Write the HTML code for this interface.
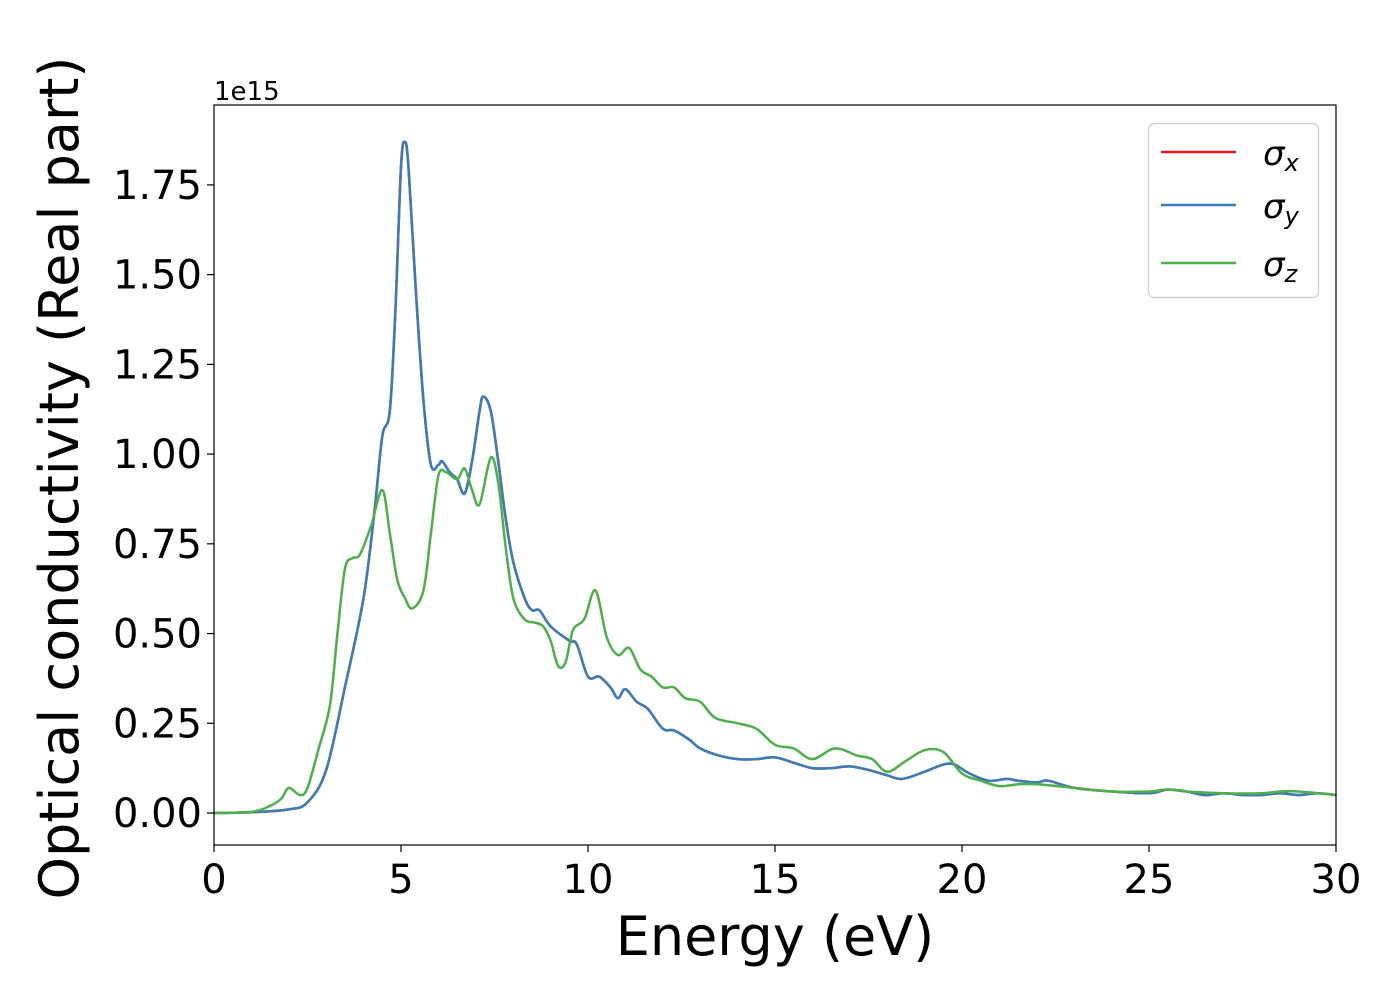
<!DOCTYPE html>
<html><head><meta charset="utf-8"><style>
body{margin:0;background:#fff;}
svg{display:block;font-family:"DejaVu Sans","Liberation Sans",sans-serif;}
</style></head><body>
<svg id="chart" width="1400" height="1000" viewBox="0 0 1400 1000">
<rect x="0" y="0" width="1400" height="1000" fill="#fff"/>
<g id="ticks"></g>
<g id="series"></g>
<rect x="214" y="105" width="1122" height="740" fill="none" stroke="#000" stroke-width="1.2"/>
<text x="214" y="100" font-size="26">1e15</text>
<text x="775" y="955" font-size="54" text-anchor="middle">Energy (eV)</text>
<text transform="translate(78,478) rotate(-90)" font-size="54" text-anchor="middle">Optical conductivity (Real part)</text>
<g>
<rect x="1148.5" y="123.5" width="170" height="174" rx="6" fill="#fff" fill-opacity="0.8" stroke="#ccc" stroke-width="1.2"/>
<g><line x1="1161" y1="152" x2="1236" y2="152" stroke="#e41a1c" stroke-width="2.5"/><text x="1263" y="165" font-size="34" font-style="italic">σ<tspan font-size="24" dy="6">x</tspan></text></g>
<g><line x1="1161" y1="205" x2="1236" y2="205" stroke="#377eb8" stroke-width="2.5"/><text x="1263" y="218" font-size="34" font-style="italic">σ<tspan font-size="24" dy="6">y</tspan></text></g>
<g><line x1="1161" y1="263" x2="1236" y2="263" stroke="#4daf4a" stroke-width="2.5"/><text x="1263" y="276" font-size="34" font-style="italic">σ<tspan font-size="24" dy="6">z</tspan></text></g>
</g>
</svg>
<script>
const xTicks=[0,5,10,15,20,25,30];
const yTicks=[0,0.25,0.5,0.75,1.0,1.25,1.5,1.75];
const yTickLabels=["0.00","0.25","0.50","0.75","1.00","1.25","1.50","1.75"];
const energyXY=[0,1,2,2.5,3,3.5,4,4.3,4.5,4.7,4.85,5.0,5.1,5.2,5.4,5.6,5.8,6.0,6.1,6.3,6.5,6.7,6.9,7.1,7.2,7.4,7.6,7.8,8.0,8.3,8.5,8.7,9.0,9.5,9.7,10.0,10.3,10.6,10.8,11.0,11.3,11.6,12.0,12.3,12.7,13.0,13.5,14,14.5,15,15.5,16,16.5,17,17.5,18,18.4,19,19.5,19.8,20.2,20.7,21.2,21.5,22,22.3,23,24,25,25.5,26,26.5,27,27.5,28,28.5,29,29.5,30];
const sigmaY=[0,0.002,0.01,0.03,0.12,0.35,0.6,0.85,1.05,1.12,1.4,1.8,1.87,1.8,1.45,1.15,0.97,0.97,0.98,0.95,0.93,0.89,0.98,1.12,1.16,1.12,0.98,0.82,0.7,0.6,0.565,0.565,0.52,0.48,0.47,0.38,0.38,0.35,0.32,0.345,0.31,0.29,0.235,0.23,0.205,0.18,0.16,0.15,0.15,0.155,0.14,0.125,0.125,0.13,0.12,0.105,0.095,0.115,0.135,0.135,0.11,0.09,0.095,0.09,0.085,0.09,0.07,0.06,0.055,0.065,0.06,0.05,0.055,0.05,0.05,0.055,0.05,0.055,0.05];
const sigmaX=sigmaY.slice();
const energyZ=[0,1,1.5,1.8,2.0,2.3,2.5,2.8,3.1,3.3,3.5,3.7,3.9,4.2,4.5,4.7,4.9,5.1,5.3,5.6,5.8,6.0,6.2,6.5,6.7,6.9,7.1,7.4,7.6,7.8,8.0,8.3,8.6,8.8,9.0,9.2,9.4,9.6,9.9,10.2,10.5,10.8,11.1,11.4,11.7,12.0,12.3,12.6,13.0,13.4,14.0,14.5,15,15.5,16,16.6,17.2,17.6,18.0,18.5,19.0,19.5,20.0,20.5,21,21.5,22,23,24,25,25.5,26,27,28,28.5,29,30];
const sigmaZ=[0,0.003,0.02,0.04,0.07,0.05,0.07,0.18,0.3,0.5,0.68,0.71,0.72,0.8,0.9,0.78,0.65,0.6,0.57,0.62,0.78,0.94,0.95,0.93,0.96,0.9,0.86,0.99,0.92,0.74,0.6,0.54,0.53,0.52,0.48,0.41,0.42,0.51,0.54,0.62,0.49,0.44,0.46,0.4,0.38,0.35,0.35,0.32,0.31,0.265,0.25,0.235,0.19,0.18,0.15,0.18,0.16,0.15,0.115,0.145,0.175,0.17,0.11,0.09,0.075,0.08,0.08,0.07,0.06,0.06,0.065,0.06,0.055,0.055,0.06,0.06,0.05];

const X0=214,X1=1336,Y0=813,PXPER=358.9;
function sx(e){return X0+(e-0)/(30-0)*(X1-X0);}
function sy(v){return Y0-v*PXPER;}
const NS="http://www.w3.org/2000/svg";
const tg=document.getElementById('ticks');
xTicks.forEach(t=>{
  const l=document.createElementNS(NS,'line');
  l.setAttribute('x1',sx(t));l.setAttribute('x2',sx(t));l.setAttribute('y1',845);l.setAttribute('y2',852);
  l.setAttribute('stroke','#000');l.setAttribute('stroke-width','1.2');
  
  
  tg.appendChild(l);
  const tx=document.createElementNS(NS,'text');
  tx.setAttribute('x',sx(t));tx.setAttribute('y',893);tx.setAttribute('font-size','40');tx.setAttribute('text-anchor','middle');
  tx.textContent=String(t);
  
  
  tg.appendChild(tx);
});
yTicks.forEach((t,i)=>{
  const l=document.createElementNS(NS,'line');
  l.setAttribute('x1',207);l.setAttribute('x2',214);l.setAttribute('y1',sy(t));l.setAttribute('y2',sy(t));
  l.setAttribute('stroke','#000');l.setAttribute('stroke-width','1.2');
  
  
  tg.appendChild(l);
  const tx=document.createElementNS(NS,'text');
  tx.setAttribute('x',202);tx.setAttribute('y',sy(t)+14);tx.setAttribute('font-size','40');tx.setAttribute('text-anchor','end');
  tx.textContent=yTickLabels[i];
  
  
  tg.appendChild(tx);
});
function pathFor(xs,ys){
  const p=xs.map((x,i)=>[sx(x),sy(ys[i])]);
  let d='M'+p[0][0]+','+p[0][1];
  for(let i=0;i<p.length-1;i++){
    const a=p[Math.max(i-1,0)],b=p[i],c=p[i+1],e=p[Math.min(i+2,p.length-1)];
    const c1=[b[0]+(c[0]-a[0])/6,b[1]+(c[1]-a[1])/6];
    const c2=[c[0]-(e[0]-b[0])/6,c[1]-(e[1]-b[1])/6];
    d+=' C'+c1[0]+','+c1[1]+' '+c2[0]+','+c2[1]+' '+c[0]+','+c[1];
  }
  return d;
}
const sg=document.getElementById('series');
[[energyXY,sigmaX,'#e41a1c','sigma-x-line'],[energyXY,sigmaY,'#377eb8','sigma-y-line'],[energyZ,sigmaZ,'#4daf4a','sigma-z-line']].forEach(s=>{
  const p=document.createElementNS(NS,'path');
  p.setAttribute('d',pathFor(s[0],s[1]));
  p.setAttribute('fill','none');p.setAttribute('stroke',s[2]);p.setAttribute('stroke-width','2.5');
  
  
  sg.appendChild(p);
});
</script>
</body></html>
